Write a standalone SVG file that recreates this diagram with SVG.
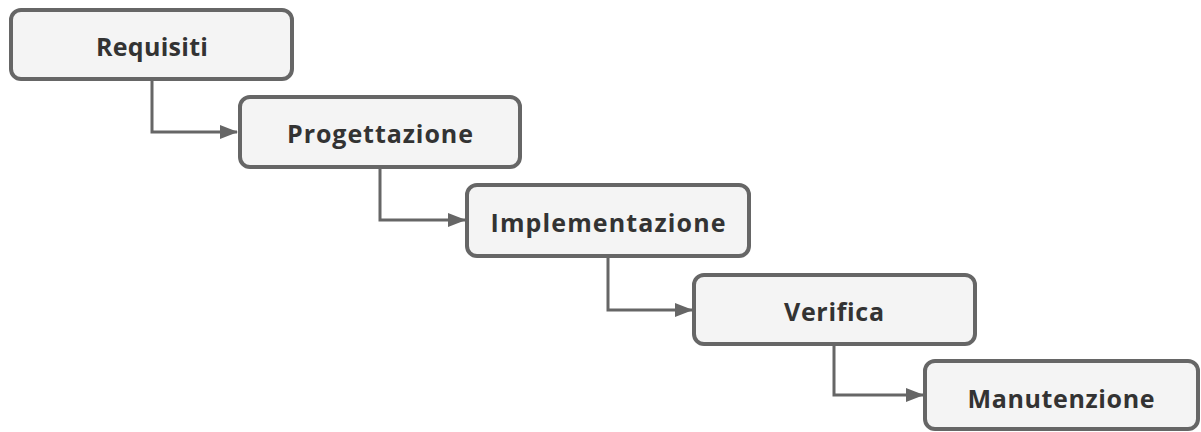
<svg xmlns="http://www.w3.org/2000/svg" width="1201" height="432" viewBox="0 0 1201 432">
  <style>
    .box { fill: #f4f4f4; stroke: #666666; stroke-width: 4; }
    .label { font-family: "Open Sans", "Liberation Sans", sans-serif; font-weight: 700; font-size: 25px; fill: #333333; text-anchor: middle; font-variant-ligatures: none; }
    .link { fill: none; stroke: #666666; stroke-width: 3; }
  </style>
  <defs>
    <marker id="arrow" viewBox="0 0 18 14" refX="17" refY="7" markerWidth="18" markerHeight="14" markerUnits="userSpaceOnUse" orient="auto">
      <path d="M0,0 L18,7 L0,14 Z" fill="#666666"/>
    </marker>
  </defs>
  <rect width="1201" height="432" fill="#ffffff"/>

  <g id="connectors">
    <path class="link" d="M152,81 V132 H237" marker-end="url(#arrow)"/>
    <path class="link" d="M380,169 V220 H465" marker-end="url(#arrow)"/>
    <path class="link" d="M608,258 V310 H692" marker-end="url(#arrow)"/>
    <path class="link" d="M834,346 V395 H923" marker-end="url(#arrow)"/>
  </g>

  <g id="requisiti">
    <rect class="box" x="11" y="10" width="281" height="69" rx="10"/>
    <text class="label" x="152" y="56" textLength="112" lengthAdjust="spacing">Requisiti</text>
  </g>
  <g id="progettazione">
    <rect class="box" x="240" y="97" width="280" height="70" rx="10"/>
    <text class="label" x="380" y="143" textLength="186" lengthAdjust="spacing">Progettazione</text>
  </g>
  <g id="implementazione">
    <rect class="box" x="467" y="185" width="282" height="71" rx="10"/>
    <text class="label" x="608" y="232" textLength="235" lengthAdjust="spacing">Implementazione</text>
  </g>
  <g id="verifica">
    <rect class="box" x="694" y="275" width="281" height="69" rx="10"/>
    <text class="label" x="834" y="321" textLength="100" lengthAdjust="spacing">Verifica</text>
  </g>
  <g id="manutenzione">
    <rect class="box" x="925" y="361" width="273" height="68" rx="10"/>
    <text class="label" x="1061" y="408" textLength="187" lengthAdjust="spacing">Manutenzione</text>
  </g>
</svg>
